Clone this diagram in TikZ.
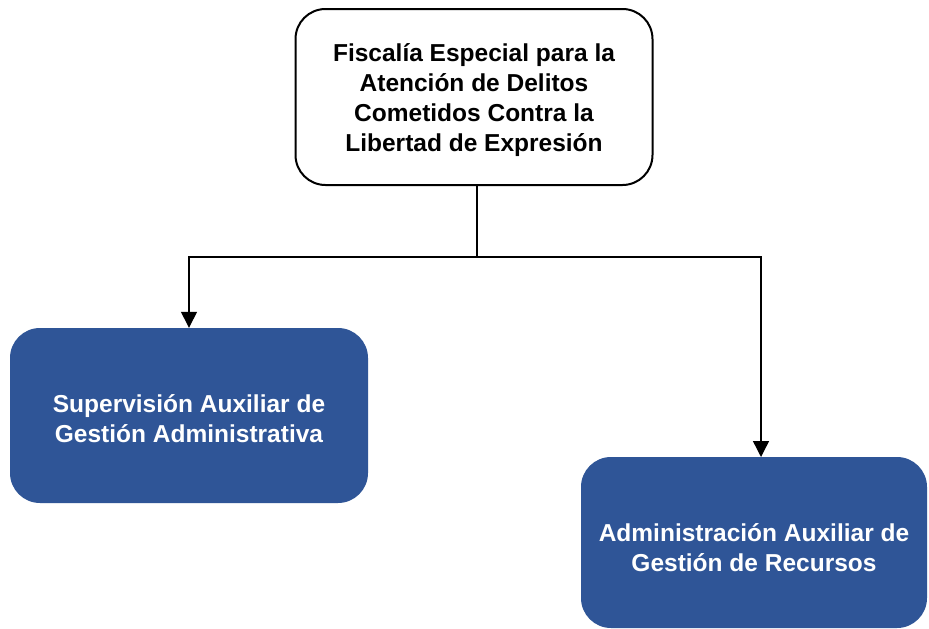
\documentclass[tikz,border=0pt]{standalone}
\usepackage{fontspec}
\setmainfont{Liberation Sans}
\usetikzlibrary{arrows.meta}
\definecolor{boxblue}{HTML}{2F5597}
\newcommand{\lowertext}[2]{\raisebox{-#1}[\height][\depth]{\begin{tabular}{@{}c@{}}#2\end{tabular}}}
\begin{document}
\begin{tikzpicture}[x=1pt,y=-1pt,
  toptext/.style={font=\fontsize{24.5}{30}\selectfont\bfseries, align=center},
  headbox/.style={draw=black, line width=2pt, fill=white, rounded corners=30pt,
    minimum width=357pt, minimum height=176pt, inner sep=0pt, toptext},
  bluebox/.style={fill=boxblue, draw=none, rounded corners=30pt, text=white,
    inner sep=0pt, toptext},
  conn/.style={draw=black, line width=1.4pt},
  arr/.style={conn, -{Triangle[width=16pt,length=16pt]}}]
\useasboundingbox (0,0) rectangle (929,629);
\fill[white] (0,0) rectangle (929,629);
\node[headbox] (top) at (474,97) {\lowertext{3.5pt}{Fiscalía Especial para la\\Atención de Delitos\\Cometidos Contra la\\Libertad de Expresión}};
\node[bluebox, minimum width=358pt, minimum height=175pt] (left) at (189,415.5) {\lowertext{6pt}{Supervisión Auxiliar de\\Gestión Administrativa}};
\node[bluebox, minimum width=346pt, minimum height=171pt] (right) at (754,542.5) {\lowertext{8pt}{Administración Auxiliar de\\Gestión de Recursos}};
\coordinate (j) at (477,257);
\coordinate (rn) at (761,457);
\draw[conn] ([xshift=3pt]top.south) -- (j);
\draw[arr] (j) -| (left.north);
\draw[arr] (j) -| (rn);
\end{tikzpicture}
\end{document}
